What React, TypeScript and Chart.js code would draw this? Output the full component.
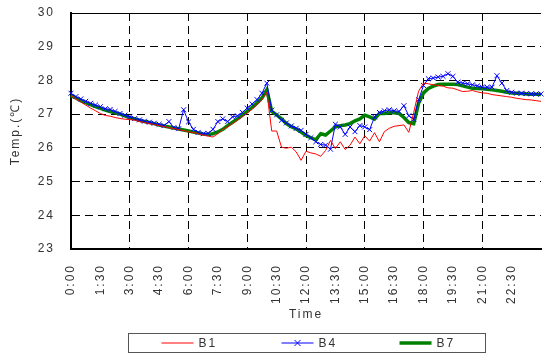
import { useEffect, useRef } from "react";
import { Chart, registerables } from "chart.js";
Chart.register(...registerables);

const times = [
  "0:00","0:15","0:30","0:45","1:00","1:15","1:30","1:45",
  "2:00","2:15","2:30","2:45","3:00","3:15","3:30","3:45",
  "4:00","4:15","4:30","4:45","5:00","5:15","5:30","5:45",
  "6:00","6:15","6:30","6:45","7:00","7:15","7:30","7:45",
  "8:00","8:15","8:30","8:45","9:00","9:15","9:30","9:45",
  "10:00","10:15","10:30","10:45","11:00","11:15","11:30","11:45",
  "12:00","12:15","12:30","12:45","13:00","13:15","13:30","13:45",
  "14:00","14:15","14:30","14:45","15:00","15:15","15:30","15:45",
  "16:00","16:15","16:30","16:45","17:00","17:15","17:30","17:45",
  "18:00","18:15","18:30","18:45","19:00","19:15","19:30","19:45",
  "20:00","20:15","20:30","20:45","21:00","21:15","21:30","21:45",
  "22:00","22:15","22:30","22:45","23:00","23:15","23:30","23:45",
  "24:00",
];

const b1 = [
  27.55,27.45,27.36,27.27,27.18,27.10,27.02,26.96,
  26.94,26.90,26.87,26.85,26.84,26.82,26.78,26.75,
  26.72,26.69,26.66,26.63,26.60,26.57,26.54,26.51,
  26.48,26.45,26.42,26.38,26.35,26.32,26.42,26.55,
  26.63,26.72,26.82,26.92,27.03,27.15,27.28,27.42,
  27.65,26.50,26.50,26.02,25.99,26.02,25.88,25.63,
  25.90,25.85,25.82,25.75,25.92,26.22,25.98,26.18,
  25.95,26.08,26.32,26.12,26.36,26.20,26.45,26.18,
  26.48,26.58,26.64,26.66,26.68,26.46,27.05,27.68,
  27.92,27.90,27.87,27.85,27.83,27.78,27.77,27.72,
  27.67,27.68,27.70,27.66,27.63,27.62,27.58,27.56,
  27.54,27.52,27.50,27.47,27.45,27.43,27.42,27.40,
  27.38,
];

const b4 = [
  27.62,27.52,27.45,27.38,27.32,27.27,27.22,27.16,
  27.14,27.08,27.02,26.97,26.92,26.87,26.83,26.79,
  26.76,26.73,26.70,26.66,26.78,26.60,26.57,27.13,
  26.77,26.55,26.46,26.42,26.43,26.55,26.78,26.86,
  26.78,26.92,26.95,27.05,27.18,27.30,27.43,27.62,
  27.92,27.12,26.98,26.82,26.74,26.65,26.58,26.52,
  26.40,26.30,26.18,26.10,26.08,25.96,26.70,26.62,
  26.40,26.62,26.48,26.66,26.62,26.54,26.92,27.05,
  27.10,27.13,27.10,27.08,27.25,26.95,26.85,27.43,
  27.85,28.05,28.07,28.10,28.12,28.20,28.12,27.95,
  27.92,27.90,27.87,27.84,27.80,27.80,27.80,28.14,
  27.92,27.70,27.65,27.62,27.62,27.61,27.60,27.60,
  27.60,
];

const b7 = [
  27.55,27.48,27.40,27.34,27.28,27.22,27.17,27.12,
  27.08,27.04,27.00,26.95,26.90,26.86,26.82,26.78,
  26.75,26.72,26.68,26.65,26.62,26.59,26.56,26.53,
  26.50,26.47,26.44,26.41,26.40,26.42,26.47,26.55,
  26.66,26.76,26.86,26.97,27.08,27.20,27.33,27.48,
  27.72,27.08,26.98,26.86,26.72,26.63,26.56,26.47,
  26.37,26.30,26.24,26.42,26.38,26.50,26.62,26.66,
  26.68,26.72,26.80,26.86,26.97,26.92,26.85,27.02,
  27.02,27.04,27.04,27.02,26.90,26.75,26.72,27.32,
  27.63,27.76,27.83,27.88,27.89,27.89,27.89,27.88,
  27.84,27.80,27.77,27.76,27.75,27.74,27.72,27.70,
  27.68,27.65,27.63,27.62,27.61,27.60,27.59,27.59,
  27.58,
];

const seriesNames = ["B1", "B4", "B7"];
const seriesColors = ["#ff0000", "#0000ff", "#008000"];

const FONT = { family: '"Liberation Sans", Arial, sans-serif', size: 12 };
const TEXT_COLOR = "#333333";
const SPACING = "2px";

const spacingPlugin = {
  id: "spacing",
  beforeDraw(chart: any) {
    chart.ctx.letterSpacing = SPACING;
  },
};

const boxLegend = {
  id: "boxLegend",
  afterDraw(chart: any) {
    const ctx = chart.ctx;
    const ca = chart.chartArea;
    const cx = (ca.left + ca.right) / 2;
    const w = 357;
    const left = Math.round(cx - w / 2) + 0.5;
    const top = 333.5;
    const h = 19;
    ctx.save();
    ctx.letterSpacing = SPACING;
    ctx.strokeStyle = "#555555";
    ctx.lineWidth = 1;
    ctx.setLineDash([]);
    ctx.strokeRect(left, top, w, h);
    const offsets = [33, 153, 271];
    const midY = top + h / 2;
    chart.data.datasets.forEach((ds: any, i: number) => {
      const x0 = left + offsets[i];
      const x1 = x0 + 32;
      ctx.strokeStyle = ds.borderColor;
      ctx.lineWidth = ds.borderWidth;
      ctx.beginPath();
      ctx.moveTo(x0, midY);
      ctx.lineTo(x1, midY);
      ctx.stroke();
      if (ds.pointRadius > 0) {
        const mx = (x0 + x1) / 2;
        const r = 3;
        ctx.lineWidth = 1;
        ctx.beginPath();
        ctx.moveTo(mx - r, midY - r);
        ctx.lineTo(mx + r, midY + r);
        ctx.moveTo(mx - r, midY + r);
        ctx.lineTo(mx + r, midY - r);
        ctx.stroke();
      }
      ctx.fillStyle = TEXT_COLOR;
      ctx.font = `${FONT.size}px ${FONT.family}`;
      ctx.textBaseline = "middle";
      ctx.textAlign = "left";
      ctx.fillText(ds.label, x1 + 5, midY + 1);
    });
    ctx.restore();
  },
};

export default function App() {
  const ref = useRef<HTMLCanvasElement>(null);
  useEffect(() => {
    const chart = new Chart(ref.current as HTMLCanvasElement, {
      type: "line",
      data: {
        labels: times,
        datasets: [
          {
            label: seriesNames[0],
            data: b1,
            borderColor: seriesColors[0],
            backgroundColor: seriesColors[0],
            borderWidth: 1,
            pointRadius: 0,
            tension: 0,
          },
          {
            label: seriesNames[1],
            data: b4,
            borderColor: seriesColors[1],
            backgroundColor: seriesColors[1],
            borderWidth: 1,
            pointStyle: "crossRot",
            pointRadius: 3.5,
            pointBorderColor: seriesColors[1],
            pointBorderWidth: 1,
            tension: 0,
          },
          {
            label: seriesNames[2],
            data: b7,
            borderColor: seriesColors[2],
            backgroundColor: seriesColors[2],
            borderWidth: 3.5,
            pointRadius: 0,
            tension: 0,
          },
        ],
      },
      options: {
        animation: false,
        responsive: false,
        layout: { padding: { top: 13, left: 0, right: 0, bottom: 27 } },
        plugins: { legend: { display: false }, tooltip: { enabled: false } },
        scales: {
          x: {
            type: "category",
            offset: false,
            grid: {
              color: (c: any) =>
                c.index % 12 === 0 && c.index > 0 && c.index < 96 ? "#000000" : "rgba(0,0,0,0)",
              lineWidth: 1,
              drawTicks: false,
            },
            border: { color: "#000000", width: 2, dash: [8, 5] },
            ticks: {
              autoSkip: false,
              maxRotation: 90,
              minRotation: 90,
              padding: 15,
              font: FONT,
              color: TEXT_COLOR,
              callback: (_v: any, i: number) => (i % 6 === 0 && i < 96 ? times[i] : ""),
            },
            title: {
              display: true,
              text: "Time",
              font: FONT,
              color: TEXT_COLOR,
              padding: { top: 0, bottom: 5 },
            },
            afterFit: (s: any) => {
              s.height = 78;
              s.paddingLeft = 0;
              s.paddingRight = 0;
            },
          },
          y: {
            min: 23,
            max: 30,
            ticks: { stepSize: 1, padding: 16, font: FONT, color: TEXT_COLOR },
            grid: {
              color: (c: any) => (c.tick && c.tick.value === 23 ? "rgba(0,0,0,0)" : "#000000"),
              lineWidth: 1,
              drawTicks: false,
            },
            border: {
              color: "#000000",
              width: 2,
              dash: (c: any) => (c.tick && c.tick.value === 30 ? [] : [8, 5]),
            },
            title: {
              display: true,
              text: "Temp.(℃)",
              font: FONT,
              color: TEXT_COLOR,
              padding: { top: 8, bottom: 0 },
            },
            afterFit: (s: any) => {
              s.width = 71;
              s.paddingTop = 0;
              s.paddingBottom = 0;
            },
          },
        },
      } as any,
      plugins: [spacingPlugin, boxLegend],
    });
    return () => chart.destroy();
  }, []);
  return (
    <div style={{ position: "absolute", left: 0, top: 0, width: 546, height: 354, background: "#fff" }}>
      <canvas ref={ref} width={546} height={354} style={{ display: "block" }} />
    </div>
  );
}
